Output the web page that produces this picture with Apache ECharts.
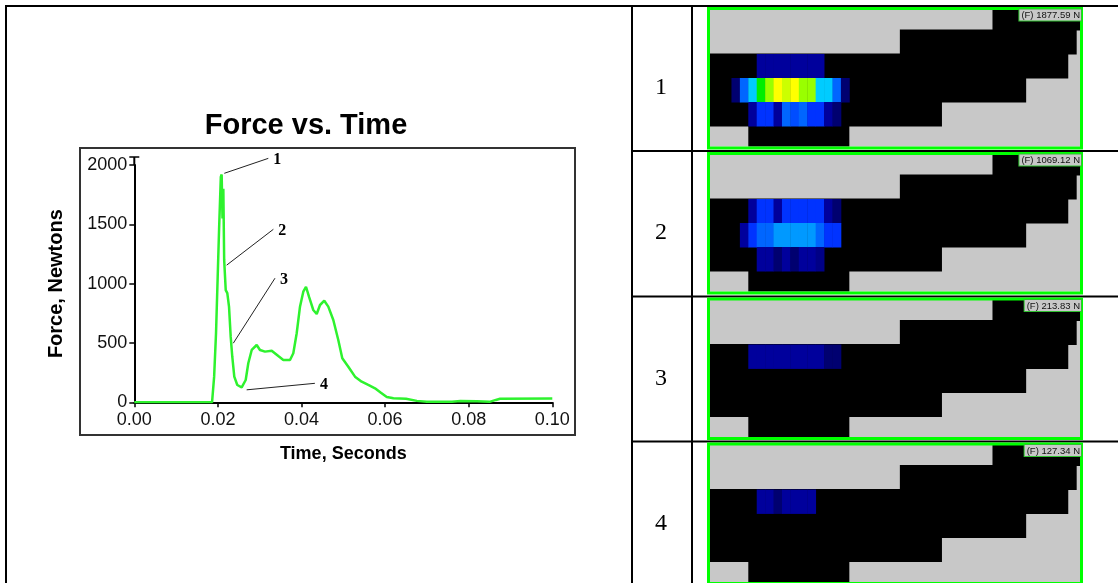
<!DOCTYPE html>
<html>
<head>
<meta charset="utf-8">
<title>Force vs. Time</title>
<script src="https://cdn.jsdelivr.net/npm/echarts@6/dist/echarts.min.js"></script>
<style>
  html, body { margin: 0; padding: 0; background: #fff; }
  #main { width: 1118px; height: 583px; }
</style>
</head>
<body>
<div id="main"></div>
<script>
// force trace
const times = [0, 0.0186, 0.0191, 0.01955, 0.01995, 0.0203, 0.0207, 0.0209, 0.0211, 0.0213, 0.0215,
  0.02187, 0.02225, 0.02266, 0.02306, 0.02344, 0.02392, 0.02464, 0.02569, 0.02665, 0.02727,
  0.02809, 0.02928, 0.03007, 0.03127, 0.03287, 0.03445, 0.03565, 0.03725, 0.03804, 0.03885,
  0.03964, 0.04043, 0.04108, 0.04179, 0.04282, 0.04364, 0.04443, 0.04545, 0.04641, 0.04761,
  0.0488, 0.04976, 0.0512, 0.0528, 0.0544, 0.05598, 0.05758, 0.059, 0.0604, 0.062, 0.065,
  0.0676, 0.07, 0.076, 0.078, 0.082, 0.085, 0.0865, 0.0875, 0.1];
const forces = [0, 0, 216, 582, 1059, 1480, 1900, 1920, 1550, 1800, 1200,
  946, 920, 806, 553, 384, 216, 146, 126, 188, 329,
  441, 483, 441, 427, 435, 390, 357, 357, 413, 582,
  806, 932, 974, 890, 778, 744, 820, 856, 806, 694,
  525, 371, 300, 216, 174, 146, 118, 80, 45, 35, 30,
  12, 5, 5, 10, 8, 4, 20, 30, 32];

// numbered call-outs on the trace: point on curve, end of leader
const markerNames = ['1', '2', '3', '4'];
const markerPoints = [[0.02153, 1930], [0.0221, 1156], [0.02368, 498], [0.02688, 105]];
const markerEnds = [[0.03206, 2056], [0.03327, 1458], [0.03366, 1046], [0.0432, 160]];

// pressure map frames, one per call-out
const frameForces = [1877.59, 1069.12, 213.83, 127.34];
// sensor area per row: [row, first col, last col]
const sensorRows = [[0, 34, 46], [1, 23, 44], [2, 0, 43], [3, 0, 38], [4, 0, 28], [5, 5, 17]];
// loaded cells: [col, row, level]
const cells1 = [
  [6, 2, 2], [7, 2, 2], [8, 2, 2], [9, 2, 2], [10, 2, 2], [11, 2, 2], [12, 2, 2], [13, 2, 2],
  [3, 3, 1], [4, 3, 4], [5, 3, 6], [6, 3, 7], [7, 3, 8], [8, 3, 10], [9, 3, 9], [10, 3, 10],
  [11, 3, 8], [12, 3, 8], [13, 3, 6], [14, 3, 6], [15, 3, 4], [16, 3, 1],
  [5, 4, 2], [6, 4, 3], [7, 4, 3], [8, 4, 2], [9, 4, 4], [10, 4, 3.5], [11, 4, 4], [12, 4, 3],
  [13, 4, 3], [14, 4, 2], [15, 4, 1]
];
const cells2 = [
  [5, 2, 2], [6, 2, 3], [7, 2, 3], [8, 2, 2], [9, 2, 3], [10, 2, 3], [11, 2, 3], [12, 2, 3],
  [13, 2, 3], [14, 2, 2], [15, 2, 1],
  [4, 3, 2], [5, 3, 3], [6, 3, 4], [7, 3, 4], [8, 3, 5], [9, 3, 5], [10, 3, 5], [11, 3, 5],
  [12, 3, 5], [13, 3, 4], [14, 3, 3], [15, 3, 3],
  [6, 4, 2], [7, 4, 2], [8, 4, 1], [9, 4, 2], [10, 4, 1], [11, 4, 2], [12, 4, 2], [13, 4, 1.5]
];
const cells3 = [
  [5, 2, 2], [6, 2, 2], [7, 2, 2], [8, 2, 2], [9, 2, 2], [10, 2, 2], [11, 2, 2], [12, 2, 2],
  [13, 2, 2], [14, 2, 1], [15, 2, 1]
];
const cells4 = [[6, 2, 2], [7, 2, 2], [8, 2, 1], [9, 2, 2], [10, 2, 2], [11, 2, 2], [12, 2, 2]];
const frameCells = [cells1, cells2, cells3, cells4];
const levelColors = ['#000070', '#00009c', '#0033ff', '#0066ff', '#0099ff', '#00ccff',
  '#00ee00', '#99ff00', '#ccff00', '#ffff00'];

const FONT = 'Liberation Sans, Arial, sans-serif';
const SERIF = 'Liberation Serif, Times New Roman, serif';

// table layout
const rowTops = [6, 151, 296.5, 441.5];
const mapX0 = 706.2;   // pixel x of column 0
const colW = 8.42;
const rowH = 24;
const mapLeft = 709.5;
const mapRight = 1080.5;

const chart = echarts.init(document.getElementById('main'), null, { renderer: 'canvas' });

const grids = [{ left: 134.3, top: 165, width: 418, height: 237.3 }];
const xAxes = [{
  type: 'value', gridIndex: 0, min: 0, max: 0.1, interval: 0.02,
  name: 'Time, Seconds', nameLocation: 'middle', nameGap: 43,
  nameTextStyle: { fontFamily: FONT, fontSize: 18, fontWeight: 'bold', color: '#000' },
  axisLine: { lineStyle: { color: '#000', width: 2 } },
  axisTick: { length: 5, lineStyle: { color: '#000', width: 1.5 } },
  axisLabel: { formatter: v => v.toFixed(2), fontFamily: FONT, fontSize: 18, color: '#111', margin: 9 },
  splitLine: { show: false }
}];
const yAxes = [{
  type: 'value', gridIndex: 0, min: 0, max: 2000, interval: 500,
  name: 'Force, Newtons', nameLocation: 'middle', nameGap: 68,
  nameTextStyle: { fontFamily: FONT, fontSize: 20, fontWeight: 'bold', color: '#000' },
  axisLine: { lineStyle: { color: '#000', width: 2 } },
  axisTick: { length: 5, lineStyle: { color: '#000', width: 1.5 } },
  axisLabel: { formatter: v => String(v), fontFamily: FONT, fontSize: 18, color: '#111', margin: 7 },
  splitLine: { show: false }
}];
const series = [{
  type: 'line', xAxisIndex: 0, yAxisIndex: 0,
  data: times.map((t, i) => [t, forces[i]]),
  symbol: 'none',
  lineStyle: { color: '#2ef22e', width: 2.5 },
  itemStyle: { color: '#2ef22e' },
  z: 3
}];

function sensorItem (params, api) {
  const p0 = api.coord([api.value(1), api.value(0)]);
  const p1 = api.coord([api.value(2), api.value(0) + 1]);
  return {
    type: 'rect',
    shape: { x: p0[0], y: p0[1] - 0.5, width: p1[0] - p0[0], height: p1[1] - p0[1] + 1 },
    style: { fill: '#000' }
  };
}
function cellItem (params, api) {
  const p0 = api.coord([api.value(0), api.value(1)]);
  const p1 = api.coord([api.value(0) + 1, api.value(1) + 1]);
  return {
    type: 'rect',
    shape: { x: p0[0], y: p0[1], width: p1[0] - p0[0] + 0.4, height: p1[1] - p0[1] + 0.4 },
    style: { fill: api.visual('color') }
  };
}

const cellSeries = [];
const graphics = [];
rowTops.forEach((top, i) => {
  const g = i + 1;
  grids.push({
    left: mapLeft, width: mapRight - mapLeft, top: top + 3.5, height: 137,
    show: true, backgroundColor: '#c8c8c8', borderWidth: 0
  });
  xAxes.push({ type: 'value', gridIndex: g, show: false, min: (mapLeft - mapX0) / colW, max: (mapRight - mapX0) / colW });
  yAxes.push({ type: 'value', gridIndex: g, show: false, inverse: true, min: 3.5 / rowH, max: 140.5 / rowH });
  series.push({
    type: 'custom', xAxisIndex: g, yAxisIndex: g, clip: true,
    renderItem: sensorItem, data: sensorRows, silent: true
  });
  cellSeries.push(series.length);
  series.push({
    type: 'custom', xAxisIndex: g, yAxisIndex: g, clip: true,
    renderItem: cellItem, data: frameCells[i], silent: true
  });
  // green frame and force readout
  graphics.push({
    type: 'rect', z: 20,
    shape: { x: 708.5, y: top + 2.5, width: 373, height: 139.5 },
    style: { fill: null, stroke: '#00ff00', lineWidth: 3 }
  });
  graphics.push({
    type: 'text', z: 21, x: 1081, y: top + 3.5,
    style: {
      text: '(F) ' + frameForces[i].toFixed(2) + ' N',
      font: '9.5px ' + FONT, fill: '#111', align: 'right', verticalAlign: 'top',
      backgroundColor: '#c8c8c8', borderColor: '#30c030', borderWidth: 1, padding: [1, 1, 0, 2]
    }
  });
  // row number in middle column
  graphics.push({
    type: 'text', z: 21, x: 661, y: top + 82,
    style: { text: String(i + 1), font: '24px ' + SERIF, fill: '#000', align: 'center', verticalAlign: 'middle' }
  });
});

// table rules
const rules = [
  [5, 6, 1118, 6], [6, 5, 6, 583], [632, 6, 632, 583], [692, 6, 692, 583],
  [632, 151, 1118, 151], [632, 296.5, 1118, 296.5], [632, 441.5, 1118, 441.5]
];
rules.forEach(r => {
  graphics.push({
    type: 'line', z: 0,
    shape: { x1: r[0], y1: r[1], x2: r[2], y2: r[3] },
    style: { stroke: '#000', lineWidth: 2 }
  });
});
// plot frame
graphics.push({
  type: 'rect', z: 0,
  shape: { x: 80, y: 148, width: 495, height: 287 },
  style: { fill: null, stroke: '#333', lineWidth: 2 }
});

const option = {
  animation: false,
  backgroundColor: '#fff',
  title: {
    text: 'Force vs. Time', left: 301, top: 106, textAlign: 'center',
    textStyle: { fontFamily: FONT, fontSize: 29, fontWeight: 'bold', color: '#000' }
  },
  grid: grids,
  xAxis: xAxes,
  yAxis: yAxes,
  visualMap: {
    type: 'continuous', show: false, min: 1, max: 10, dimension: 2,
    seriesIndex: cellSeries, inRange: { color: levelColors }
  },
  series: series,
  graphic: { elements: graphics }
};
chart.setOption(option);

// leader lines for the numbered call-outs
const leaders = [];
markerNames.forEach((name, i) => {
  const a = chart.convertToPixel({ gridIndex: 0 }, markerPoints[i]);
  const b = chart.convertToPixel({ gridIndex: 0 }, markerEnds[i]);
  leaders.push({
    type: 'line', z: 10,
    shape: { x1: a[0], y1: a[1], x2: b[0], y2: b[1] },
    style: { stroke: '#222', lineWidth: 1 }
  });
  leaders.push({
    type: 'text', z: 10, x: b[0] + 5, y: b[1] + 2,
    style: { text: name, font: 'bold 16px ' + SERIF, fill: '#000', align: 'left', verticalAlign: 'middle' }
  });
});
// cap on top of the force axis, as in the source plot
const top2000 = chart.convertToPixel({ gridIndex: 0 }, [0, 2000]);
leaders.push({
  type: 'line', z: 10,
  shape: { x1: top2000[0], y1: top2000[1], x2: top2000[0], y2: top2000[1] - 8 },
  style: { stroke: '#000', lineWidth: 2 }
});
leaders.push({
  type: 'line', z: 10,
  shape: { x1: top2000[0] - 5, y1: top2000[1] - 8, x2: top2000[0] + 5, y2: top2000[1] - 8 },
  style: { stroke: '#000', lineWidth: 1.5 }
});
option.graphic = { elements: graphics.concat(leaders) };
chart.setOption(option, true);
</script>
</body>
</html>
